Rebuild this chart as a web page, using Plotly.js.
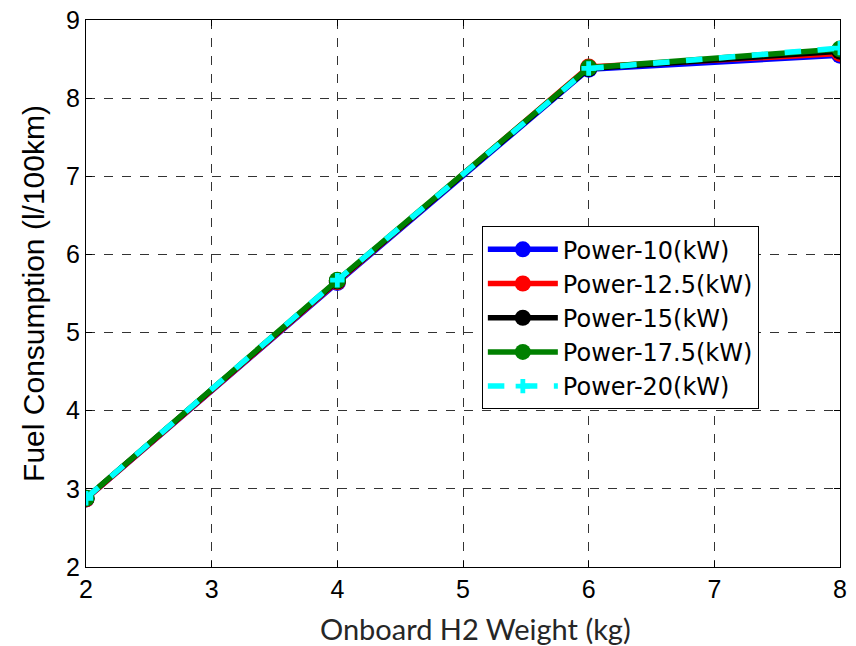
<!DOCTYPE html>
<html>
<head>
<meta charset="utf-8">
<script src="https://cdn.plot.ly/plotly-3.0.1.min.js"></script>
<style>html,body{margin:0;padding:0;background:#fff;}#chart{width:856px;height:646px;}</style>
</head>
<body>
<div id="chart"></div>
<script>
const weights = [2, 4, 6, 8];
const power10 = [2.87, 5.64, 8.37, 8.55];
const power125 = [2.87, 5.65, 8.40, 8.57];
const power15 = [2.88, 5.66, 8.38, 8.60];
const power175 = [2.88, 5.67, 8.39, 8.63];
const power20 = [2.88, 5.67, 8.38, 8.64];
const names = ['Power-10(kW)', 'Power-12.5(kW)', 'Power-15(kW)', 'Power-17.5(kW)', 'Power-20(kW)'];
const colors = ['#0000ff', '#ff0000', '#000000', '#008000', '#00ffff'];
const series = [power10, power125, power15, power175, power20];
const xTitle = 'Onboard H2 Weight (kg)';
const yTitle = 'Fuel Consumption (l/100km)';

const traces = series.map((ys, i) => {
  const isLast = i === 4;
  return {
    x: weights, y: ys, name: names[i], type: 'scatter', mode: 'lines+markers',
    line: {color: colors[i], width: 5.5, dash: isLast ? 'dash' : 'solid'},
    marker: isLast ? {symbol: 'cross', size: 12, color: colors[i]} : {symbol: 'circle', size: 17, color: colors[i]}
  };
});

const axisCommon = {
  showline: true, linecolor: '#000', linewidth: 1, mirror: 'allticks',
  ticks: 'inside', ticklen: 6, tickcolor: '#000',
  showgrid: true, gridcolor: '#333', gridwidth: 1, griddash: 'dash',
  zeroline: false, automargin: false,
  tickfont: {family: 'Liberation Sans, Arial, sans-serif', size: 25, color: '#000'}
};

const layout = {
  width: 856, height: 646,
  margin: {l: 86, r: 16, t: 20, b: 79},
  paper_bgcolor: '#fff', plot_bgcolor: '#fff',
  showlegend: true,
  xaxis: Object.assign({}, axisCommon, {range: [2, 8], dtick: 1}),
  yaxis: Object.assign({}, axisCommon, {
    range: [2, 9], dtick: 1,
    title: {text: yTitle, font: {family: 'Liberation Sans, Arial, sans-serif', size: 30, color: '#000'}, standoff: 12}
  }),
  annotations: [{
    text: xTitle, xref: 'paper', yref: 'paper', x: 0.517, y: -0.112,
    xanchor: 'center', yanchor: 'middle', showarrow: false,
    font: {family: 'Lato, Noto Sans, sans-serif', size: 29, color: '#262626'}
  }],
  legend: {
    x: 0.525, y: 0.623, xanchor: 'left', yanchor: 'top',
    bgcolor: '#fff', bordercolor: '#000', borderwidth: 1,
    font: {family: 'DejaVu Sans, sans-serif', size: 24, color: '#000'},
    itemwidth: 70, tracegroupgap: 0
  }
};

Plotly.newPlot('chart', traces, layout, {displayModeBar: false, staticPlot: true});
</script>
</body>
</html>
